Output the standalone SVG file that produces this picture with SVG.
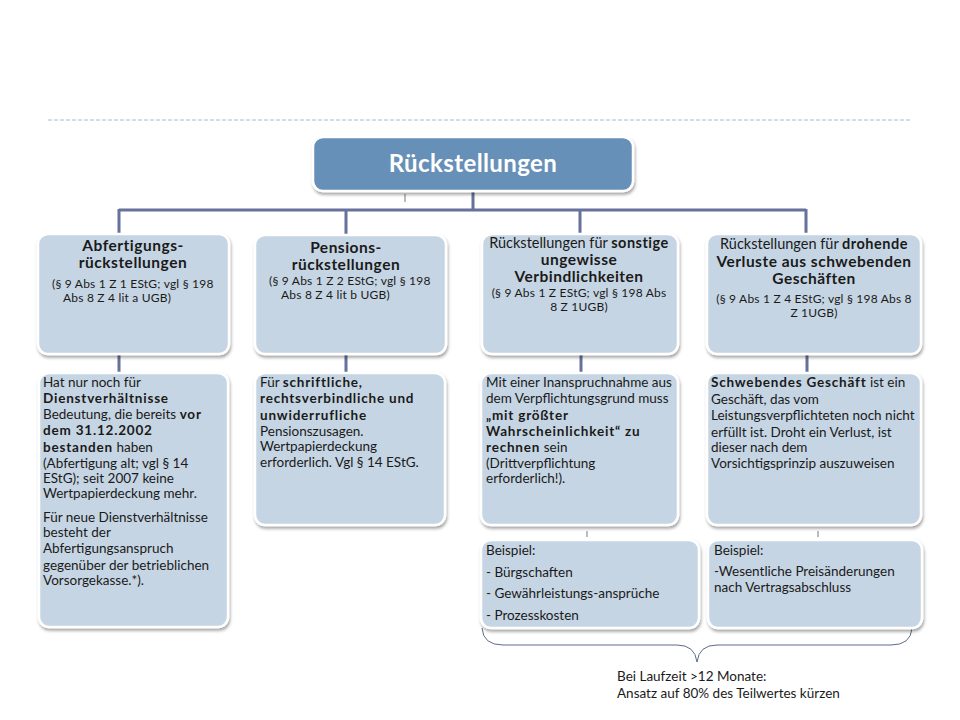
<svg xmlns="http://www.w3.org/2000/svg" width="960" height="720" viewBox="0 0 960 720">
<defs>
<filter id="sh" x="-10%" y="-10%" width="120%" height="130%">
<feDropShadow dx="1" dy="2.5" stdDeviation="1.5" flood-color="#000" flood-opacity="0.35"/>
</filter>
<style>
text{font-family:Lato,"Open Sans","DejaVu Sans",sans-serif;fill:#1a1a1a}
.box{fill:#c6d5e3;stroke:#fff;stroke-width:2.5;filter:url(#sh)}
.root{fill:#6690b7;stroke:#fff;stroke-width:2.5;filter:url(#sh)}
.h{font-size:15.5px;font-weight:bold;text-anchor:middle;letter-spacing:0.5px}
.hc{font-size:14.5px;text-anchor:middle}
.hc .b{letter-spacing:0.5px}
.s{font-size:12px;letter-spacing:0.2px}
.t{font-size:13.5px}
.b{font-weight:bold}
.t .b,.t.b{letter-spacing:0.8px}
.con{fill:none;stroke:#66719c;stroke-width:3}
.tick{fill:none;stroke:#8a8f9e;stroke-width:1.2}
.brace{fill:none;stroke:#5f6a8a;stroke-width:1}
</style>
</defs>
<rect width="960" height="720" fill="#fff"/>
<line x1="48" y1="120" x2="912" y2="120" stroke="#a3bccd" stroke-width="1" stroke-dasharray="4,2"/>
<g id="connectors">
<path class="con" d="M473,191 V210 M119,210 H806 M119,209 V234 M346,209 V234 M580,209 V234 M806,209 V234"/>
<path class="con" d="M119,355 V373 M346,355 V373 M581,355 V373 M807,355 V373"/>
<path class="tick" d="M405,194 V202 M587,531 V537 M818,531 V537"/>
<path class="brace" d="M482,628 Q483,645 503,645 H677 Q695,645 697,662 Q699,645 717,645 H891 Q911,645 912,628"/>
</g>
<g id="root">
<rect class="root" x="313" y="137" width="320" height="54" rx="10"/>
<text x="473" y="172" style="font-size:24px;font-weight:bold;fill:#fff;text-anchor:middle;letter-spacing:0.4px">Rückstellungen</text>
</g>
<g id="n1">
<rect class="box" x="38" y="234" width="191" height="120" rx="10"/>
<text class="h" x="133" y="251">Abfertigungs-</text>
<text class="h" x="133" y="268">rückstellungen</text>
<text class="s" x="52" y="288">(§ 9 Abs 1 Z 1 EStG; vgl § 198</text>
<text class="s" x="63" y="302">Abs 8 Z 4 lit a UGB)</text>
</g>
<g id="n2">
<rect class="box" x="255" y="235" width="191" height="119" rx="10"/>
<text class="h" x="346" y="253">Pensions-</text>
<text class="h" x="346" y="270">rückstellungen</text>
<text class="s" x="269" y="285">(§ 9 Abs 1 Z 2 EStG; vgl § 198</text>
<text class="s" x="281" y="299">Abs 8 Z 4 lit b UGB)</text>
</g>
<g id="n3">
<rect class="box" x="482" y="234" width="196" height="120" rx="10"/>
<text class="hc" x="579" y="248">Rückstellungen für <tspan class="b">sonstige</tspan></text>
<text class="h" x="579" y="265">ungewisse</text>
<text class="h" x="579" y="282">Verbindlichkeiten</text>
<text class="hc s" x="579" y="297">(§ 9 Abs 1 Z  EStG; vgl § 198 Abs</text>
<text class="hc s" x="579" y="311">8 Z 1UGB)</text>
</g>
<g id="n4">
<rect class="box" x="707" y="234" width="214" height="120" rx="10"/>
<text class="hc" x="814" y="249">Rückstellungen für <tspan class="b">drohende</tspan></text>
<text class="h" x="814" y="267">Verluste aus schwebenden</text>
<text class="h" x="814" y="284">Geschäften</text>
<text class="hc s" x="814" y="303">(§ 9 Abs 1 Z 4 EStG; vgl § 198 Abs 8</text>
<text class="hc s" x="814" y="317">Z 1UGB)</text>
</g>
<g id="n5">
<rect class="box" x="39" y="373" width="189" height="254" rx="10"/>
<text class="t" x="43">
<tspan x="43" y="387">Hat nur noch für</tspan>
<tspan x="43" y="403" class="b">Dienstverhältnisse</tspan>
<tspan x="43" y="419">Bedeutung, die bereits <tspan class="b">vor</tspan></tspan>
<tspan x="43" y="435" class="b">dem 31.12.2002</tspan>
<tspan x="43" y="452"><tspan class="b">bestanden</tspan> haben</tspan>
<tspan x="43" y="468">(Abfertigung alt; vgl § 14</tspan>
<tspan x="43" y="483">EStG); seit 2007 keine</tspan>
<tspan x="43" y="498">Wertpapierdeckung mehr.</tspan>
<tspan x="43" y="522">Für neue Dienstverhältnisse</tspan>
<tspan x="43" y="537">besteht der</tspan>
<tspan x="43" y="553">Abfertigungsanspruch</tspan>
<tspan x="43" y="570">gegenüber der betrieblichen</tspan>
<tspan x="43" y="585">Vorsorgekasse.*).</tspan>
</text>
</g>
<g id="n6">
<rect class="box" x="255" y="373" width="190" height="152" rx="10"/>
<text class="t" x="260">
<tspan x="260" y="387">Für <tspan class="b">schriftliche,</tspan></tspan>
<tspan x="260" y="403" class="b">rechtsverbindliche und</tspan>
<tspan x="260" y="420" class="b">unwiderrufliche</tspan>
<tspan x="260" y="436">Pensionszusagen.</tspan>
<tspan x="260" y="451">Wertpapierdeckung</tspan>
<tspan x="260" y="467">erforderlich. Vgl § 14 EStG.</tspan>
</text>
</g>
<g id="n7">
<rect class="box" x="481" y="373" width="197" height="152" rx="10"/>
<text class="t" x="486">
<tspan x="486" y="387">Mit einer Inanspruchnahme aus</tspan>
<tspan x="486" y="403">dem Verpflichtungsgrund muss</tspan>
<tspan x="486" y="420" class="b">„mit größter</tspan>
<tspan x="486" y="436"><tspan class="b">Wahrscheinlichkeit“ zu</tspan></tspan>
<tspan x="486" y="452"><tspan class="b">rechnen</tspan> sein</tspan>
<tspan x="486" y="468">(Drittverpflichtung</tspan>
<tspan x="486" y="483">erforderlich!).</tspan>
</text>
</g>
<g id="n8">
<rect class="box" x="707" y="373" width="214" height="152" rx="10"/>
<text class="t" x="711">
<tspan x="711" y="387"><tspan class="b">Schwebendes Geschäft</tspan> ist ein</tspan>
<tspan x="711" y="404">Geschäft, das vom</tspan>
<tspan x="711" y="420">Leistungsverpflichteten noch nicht</tspan>
<tspan x="711" y="437">erfüllt ist. Droht ein Verlust, ist</tspan>
<tspan x="711" y="452">dieser nach dem</tspan>
<tspan x="711" y="468">Vorsichtigsprinzip auszuweisen</tspan>
</text>
</g>
<g id="n9">
<rect class="box" x="481" y="540" width="218" height="88" rx="10"/>
<text class="t" x="486">
<tspan x="486" y="555">Beispiel:</tspan>
<tspan x="486" y="577">- Bürgschaften</tspan>
<tspan x="486" y="598">- Gewährleistungs-ansprüche</tspan>
<tspan x="486" y="620">- Prozesskosten</tspan>
</text>
</g>
<g id="n10">
<rect class="box" x="708" y="540" width="214" height="88" rx="10"/>
<text class="t" x="714">
<tspan x="714" y="555">Beispiel:</tspan>
<tspan x="714" y="576">-Wesentliche Preisänderungen</tspan>
<tspan x="714" y="592">nach Vertragsabschluss</tspan>
</text>
</g>
<g id="note">
<text class="t" x="617" y="681">Bei Laufzeit &gt;12 Monate:</text>
<text class="t" x="617" y="698">Ansatz auf 80% des Teilwertes kürzen</text>
</g>
</svg>
